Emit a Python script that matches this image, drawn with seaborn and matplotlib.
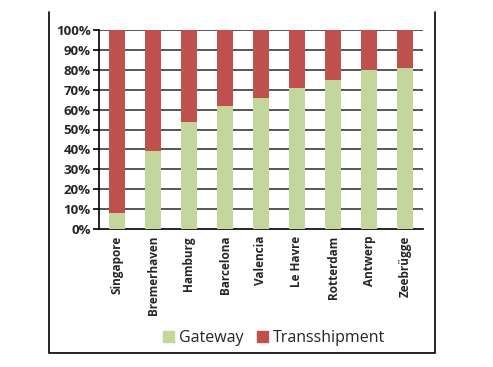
import numpy as np
import pandas as pd
import matplotlib
matplotlib.use('Agg')
import matplotlib.pyplot as plt
from matplotlib.lines import Line2D
from matplotlib.patches import Patch
import seaborn as sns

ports = ['Singapore', 'Bremerhaven', 'Hamburg', 'Barcelona', 'Valencia',
         'Le Havre', 'Rotterdam', 'Antwerp', 'Zeebrügge']
gateway = [8, 39, 54, 62, 66, 71, 75, 80, 81]
transshipment = [100 - g for g in gateway]

green = '#C3D69B'
red = '#C0504D'

sns.set_style('white')
plt.rcParams['font.family'] = ['Open Sans', 'DejaVu Sans']

df = pd.DataFrame({'port': ports, 'Gateway': gateway,
                   'Transshipment': transshipment})
df['total'] = df['Gateway'] + df['Transshipment']

fig = plt.figure(figsize=(4.93, 3.67), dpi=100)
ax = fig.add_axes([99 / 493, 1 - 229 / 367, 324 / 493, 199 / 367])

# horizontal gridlines behind bars
for v in range(10, 101, 10):
    ax.axhline(v, color='#3a3a3a', lw=1.2, zorder=0)

sns.barplot(data=df, x='port', y='total', color=red, width=0.42,
            saturation=1, linewidth=0, ax=ax, zorder=2)
sns.barplot(data=df, x='port', y='Gateway', color=green, width=0.42,
            saturation=1, linewidth=0, ax=ax, zorder=3)

ax.set_xlim(-0.5, len(ports) - 0.5)
ax.set_ylim(0, 100)
ax.set_yticks(range(0, 101, 10))
ax.set_yticklabels([f'{v}%' for v in range(0, 101, 10)],
                   fontsize=9.5, fontweight='bold')
ax.set_xticks(range(len(ports)))
ax.set_xticklabels(ports, rotation=90, fontsize=8.5, fontweight='bold')
ax.set_xticks(np.arange(-0.5, len(ports)), minor=True)
ax.tick_params(axis='x', which='major', length=0, pad=5)
ax.tick_params(axis='x', which='minor', length=4, width=1.2, color='black',
               direction='out')
ax.tick_params(axis='y', length=4, width=1.2, color='black', direction='out',
               left=True, pad=2)
ax.set_xlabel('')
ax.set_ylabel('')
for s in ['top', 'right']:
    ax.spines[s].set_visible(False)
for s in ['left', 'bottom']:
    ax.spines[s].set_color('black')
    ax.spines[s].set_linewidth(1.2)

handles = [Patch(color=green, label='Gateway'),
           Patch(color=red, label='Transshipment')]
fig.legend(handles=handles, loc='center', bbox_to_anchor=(274 / 493, 1 - 338 / 367),
           ncol=2, frameon=False, fontsize=11.5, handlelength=0.7,
           handleheight=0.7, handletextpad=0.3, columnspacing=0.8)

# outer frame lines (left, bottom, right)
fx = [49 / 493, 49 / 493, 435 / 493, 435 / 493]
fy = [1 - 12 / 367, 1 - 353 / 367, 1 - 353 / 367, 1 - 12 / 367]
fig.add_artist(Line2D(fx, fy, color='black', lw=1.2, transform=fig.transFigure))

fig.savefig('out.png', dpi=100)
